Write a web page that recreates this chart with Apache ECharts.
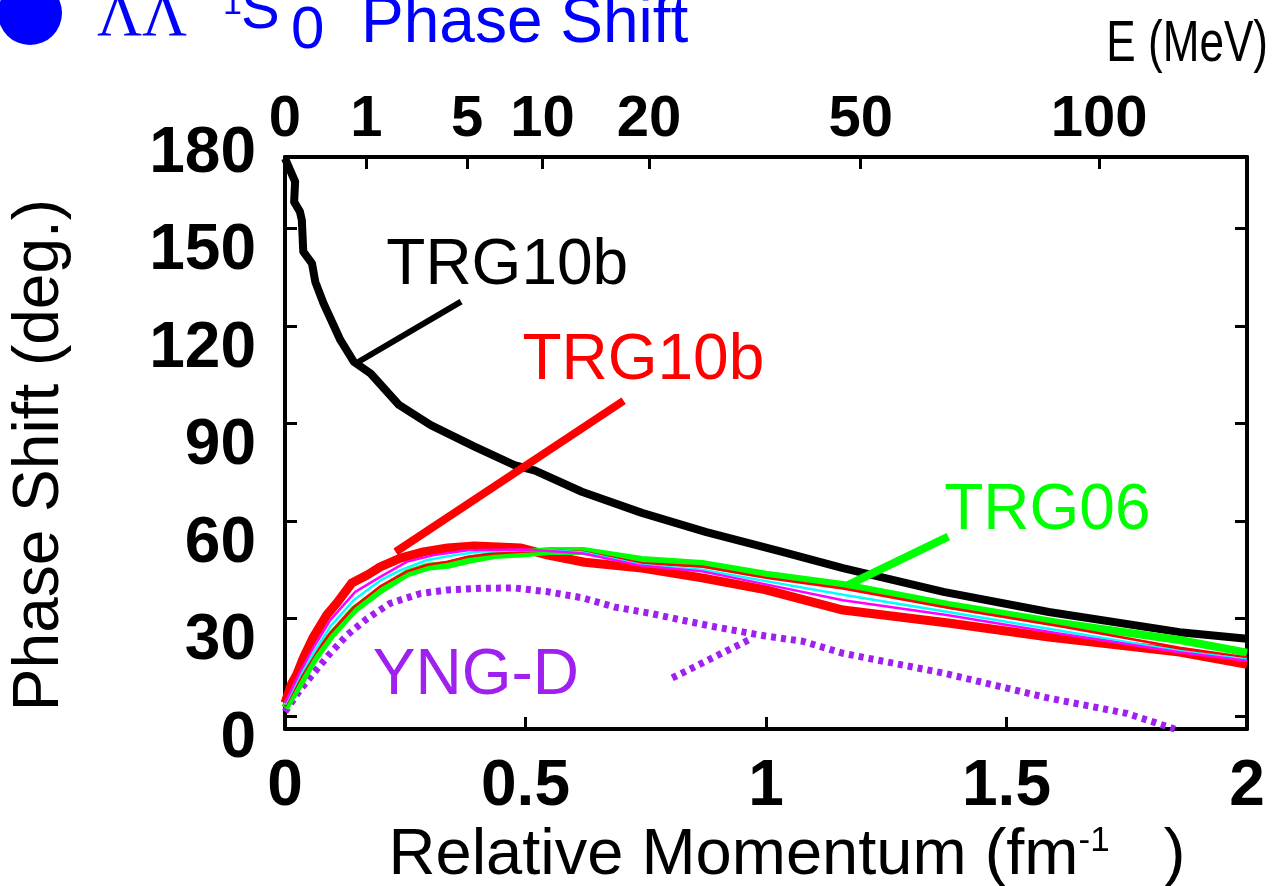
<!DOCTYPE html>
<html><head><meta charset="utf-8">
<script src="https://cdn.jsdelivr.net/npm/echarts@6/dist/echarts.min.js"></script>
<style>html,body{margin:0;padding:0;background:#fff}#c{width:1275px;height:886px}</style>
</head><body><div id="c"></div>
<script>
// ---- data (k in fm^-1, phase shift in degrees) ----
const energyTicks = [0, 1, 5, 10, 20, 50, 100];          // MeV, top axis
const momentumTicks = [0, 0.5, 1, 1.5, 2];               // fm^-1, bottom axis
const phaseTickValues = [0, 30, 60, 90, 120, 150];        // ticks inside frame
const phaseTickLabels = [0, 30, 60, 90, 120, 150, 180];   // labels

const trg10bBound = [[0,171.6],[0.021,164.4],[0.019,158.2],[0.031,155.2],[0.035,152.6],[0.038,142.9],[0.056,139.3],[0.063,133.6],[0.08,127],[0.115,115.7],[0.143,109],[0.178,105.4],[0.237,95.7],[0.303,89.5],[0.394,82.9],[0.477,77.2],[0.52,75.5],[0.617,69],[0.742,62.5],[0.876,56.6],[1.034,50.5],[1.16,45.5],[1.369,38.2],[1.588,32],[1.86,25.8],[2.0,23.8]];
const trg10b = [[0,4],[0.014,10],[0.024,12.6],[0.038,17.8],[0.059,24.3],[0.087,31.1],[0.108,34.8],[0.139,40.9],[0.171,43.4],[0.198,45.9],[0.24,48.6],[0.288,50.5],[0.338,51.7],[0.393,52.3],[0.443,52],[0.491,51.7],[0.547,49.5],[0.623,47.3],[0.742,45.5],[0.867,42.5],[1.0,38.8],[1.16,32.6],[1.379,28.6],[1.588,24.3],[1.86,19.7],[2.0,15.9]];
const trg06 = [[0,2.5],[0.031,10],[0.059,17.2],[0.094,24.4],[0.143,32.6],[0.199,38.8],[0.254,43.9],[0.296,45.9],[0.338,46.5],[0.38,48],[0.435,49.5],[0.491,50],[0.55,50.8],[0.62,50.8],[0.742,48],[0.867,46.8],[1.0,43.5],[1.16,40.3],[1.379,34.2],[1.609,28.6],[1.86,23.4],[2.0,19.5]];
const thinRed = [[0,3],[0.031,11.5],[0.059,18.5],[0.094,25.5],[0.143,33.5],[0.199,40],[0.254,44.5],[0.296,46.5],[0.338,47.5],[0.38,49],[0.435,50],[0.491,50.5],[0.55,51],[0.62,50.5],[0.742,47],[0.867,46],[1.0,42.5],[1.16,39.2],[1.379,33.3],[1.609,27.7],[1.86,21],[2.0,18]];
const thinCyan = [[0,3.5],[0.031,12.5],[0.059,19.3],[0.094,27.5],[0.143,35.7],[0.199,41.8],[0.24,44.9],[0.296,48],[0.352,49.5],[0.408,50.6],[0.491,51],[0.55,51],[0.62,50.3],[0.742,46.5],[0.867,45],[1.0,41.5],[1.16,37.3],[1.379,32],[1.609,26.3],[1.86,20],[2.0,17.4]];
const thinMagenta = [[0,4],[0.031,13.5],[0.059,21],[0.094,29.5],[0.146,38.2],[0.199,42.9],[0.254,47.5],[0.31,49.5],[0.38,51],[0.491,51.2],[0.55,50.8],[0.62,50],[0.742,46.2],[0.867,44.5],[1.0,40.5],[1.16,35.6],[1.379,31],[1.609,25.4],[1.86,19.6],[2.0,17]];
const yngD = [[0,1.3],[0.031,8],[0.059,13.1],[0.094,19.3],[0.129,24.9],[0.171,30],[0.219,34.7],[0.282,37.7],[0.338,38.8],[0.408,39.3],[0.477,39.4],[0.547,38.2],[0.617,36.4],[0.686,33.5],[0.756,31.7],[0.825,29.5],[0.895,27.4],[0.999,24.6],[1.076,23],[1.16,19.3],[1.369,13.2],[1.588,5.5],[1.75,0.8],[1.85,-4]];

// annotation pointer lines and label anchors (data units)
const pointerBlack = [[0.153,109],[0.366,127.5]];
const pointerRed = [[0.230,50.5],[0.704,97]];
const pointerGreen = [[1.17,40.3],[1.379,55.2]];
const pointerPurple = [[0.805,11.7],[0.972,24]];
const annotationNames = ['TRG10b', 'TRG10b', 'TRG06', 'YNG-D'];
const annotationAnchors = [[0.462,138.5],[0.745,109.2],[1.585,63.1],[0.397,12.3]];
const annotationColors = ['#000000', '#ff0000', '#00ff00', '#a020f0'];

// E = (hbar c k)^2 / m_Lambda  (reduced mass m_Lambda/2)
const hbarc = 197.327, mLambda = 1115.68;
const kOfE = e => Math.sqrt(e * mLambda) / hbarc;
const eOfK = k => Math.round(k * k * hbarc * hbarc / mLambda);

const SANS = 'Liberation Sans, Arial, sans-serif';
const chart = echarts.init(document.getElementById('c'), null, {renderer: 'canvas'});

function curve(data, color, width, z, dash) {
  return {type: 'line', data, xAxisIndex: 0, yAxisIndex: 0, symbol: 'none', showSymbol: false,
    lineStyle: {color, width, opacity: 1, type: dash || 'solid', cap: 'butt', join: 'round'}, z, silent: true};
}

const frameAxisLine = {show: true, onZero: false, lineStyle: {color: '#000', width: 4}};
const innerTick = {show: true, inside: true, length: 12, lineStyle: {color: '#000', width: 3}};

chart.setOption({
  animation: false,
  backgroundColor: '#ffffff',
  grid: [
    {left: 285, right: 28, top: 157, bottom: 157, outerBoundsMode: 'none'},
    {left: 285, right: 28, top: 154, bottom: 147, show: false, outerBoundsMode: 'none'}
  ],
  xAxis: [
    {gridIndex: 0, type: 'value', position: 'bottom', min: 0, max: 2, interval: 0.5,
      axisLine: frameAxisLine, axisTick: innerTick, splitLine: {show: false},
      axisLabel: {color: '#000', fontFamily: SANS, fontWeight: 'bold', fontSize: 64, margin: 26},
      name: 'Relative Momentum (fm{s|-1}   )', nameLocation: 'middle', nameGap: 89,
      nameTextStyle: {color: '#000', fontFamily: SANS, fontSize: 65, padding: [0, 0, 0, 42],
        rich: {s: {fontSize: 35, fontFamily: SANS, color: '#000', verticalAlign: 'top'}}}},
    {gridIndex: 0, type: 'value', position: 'top', min: 0, max: 2,
      axisLine: frameAxisLine,
      axisTick: Object.assign({}, innerTick, {customValues: energyTicks.map(kOfE)}),
      splitLine: {show: false},
      axisLabel: {customValues: energyTicks.map(kOfE), formatter: v => String(eOfK(v)),
        color: '#000', fontFamily: SANS, fontWeight: 'bold', fontSize: 58, margin: 8}},
    {gridIndex: 1, type: 'value', min: 0, max: 2, show: false}
  ],
  yAxis: [
    {gridIndex: 0, type: 'value', position: 'left', min: -4, max: 172,
      axisLine: frameAxisLine,
      axisTick: Object.assign({}, innerTick, {customValues: phaseTickValues}),
      axisLabel: {show: false}, splitLine: {show: false},
      name: 'Phase Shift (deg.)', nameLocation: 'middle', nameGap: 213, nameRotate: 90,
      nameTextStyle: {color: '#000', fontFamily: SANS, fontSize: 64, padding: [0, 24, 0, 0]}},
    {gridIndex: 0, type: 'value', position: 'right', min: -4, max: 172,
      axisLine: frameAxisLine,
      axisTick: Object.assign({}, innerTick, {customValues: phaseTickValues}),
      axisLabel: {show: false}, splitLine: {show: false}},
    {gridIndex: 1, type: 'value', position: 'left', min: 0, max: 180,
      axisLine: {show: false, onZero: false}, axisTick: {show: false}, splitLine: {show: false},
      axisLabel: {customValues: phaseTickLabels, color: '#000', fontFamily: SANS,
        fontWeight: 'bold', fontSize: 64, margin: 29}}
  ],
  series: [
    curve(yngD, '#a020f0', 7, 2, [5, 5]),
    curve(trg10bBound, '#000000', 8, 3),
    curve(trg10b, '#ff0000', 9, 4),
    curve(trg06, '#00ff00', 8, 5),
    curve(thinRed, '#ff0000', 2.5, 6),
    curve(thinCyan, '#00ffff', 2.5, 7),
    curve(thinMagenta, '#ff00ff', 2.5, 8),
    curve(pointerBlack, '#000000', 6, 9),
    curve(pointerRed, '#ff0000', 8, 9),
    curve(pointerGreen, '#00ff00', 8, 9),
    curve(pointerPurple, '#a020f0', 7, 9, [5, 5]),
    {type: 'scatter', xAxisIndex: 0, yAxisIndex: 0, symbolSize: 0, z: 10, silent: true,
      itemStyle: {opacity: 1},
      data: annotationNames.map((n, i) => ({name: n, value: annotationAnchors[i],
        label: {color: annotationColors[i]}})),
      label: {show: true, position: 'inside', formatter: p => p.name, opacity: 1,
        fontFamily: SANS, fontSize: 64}}
  ],
  graphic: [
    {type: 'circle', shape: {cx: 30, cy: 13, r: 32}, style: {fill: '#0000ff'}},
    {type: 'text', x: 97, y: 19, style: {text: 'ΛΛ', fill: '#0000ff', font: '62px "Liberation Serif", "Times New Roman", serif', align: 'left', verticalAlign: 'middle'}},
    {type: 'text', x: 223, y: 5, style: {text: '1', fill: '#0000ff', font: '34px "Liberation Sans", Arial, sans-serif', align: 'left', verticalAlign: 'middle'}},
    {type: 'text', x: 241, y: 12, style: {text: 'S', fill: '#0000ff', font: '58px "Liberation Sans", Arial, sans-serif', align: 'left', verticalAlign: 'middle'}},
    {type: 'text', x: 291, y: 31, style: {text: '0', fill: '#0000ff', font: '60px "Liberation Sans", Arial, sans-serif', align: 'left', verticalAlign: 'middle'}},
    {type: 'text', x: 361, y: 24, style: {text: 'Phase Shift', fill: '#0000ff', font: '64px "Liberation Sans", Arial, sans-serif', align: 'left', verticalAlign: 'middle'}},
    {type: 'text', x: 1268, y: 45, scaleX: 0.76, style: {text: 'E (MeV)', fill: '#000000', font: '58px "Liberation Sans", Arial, sans-serif', align: 'right', verticalAlign: 'middle'}}
  ]
});
</script>
</body></html>
